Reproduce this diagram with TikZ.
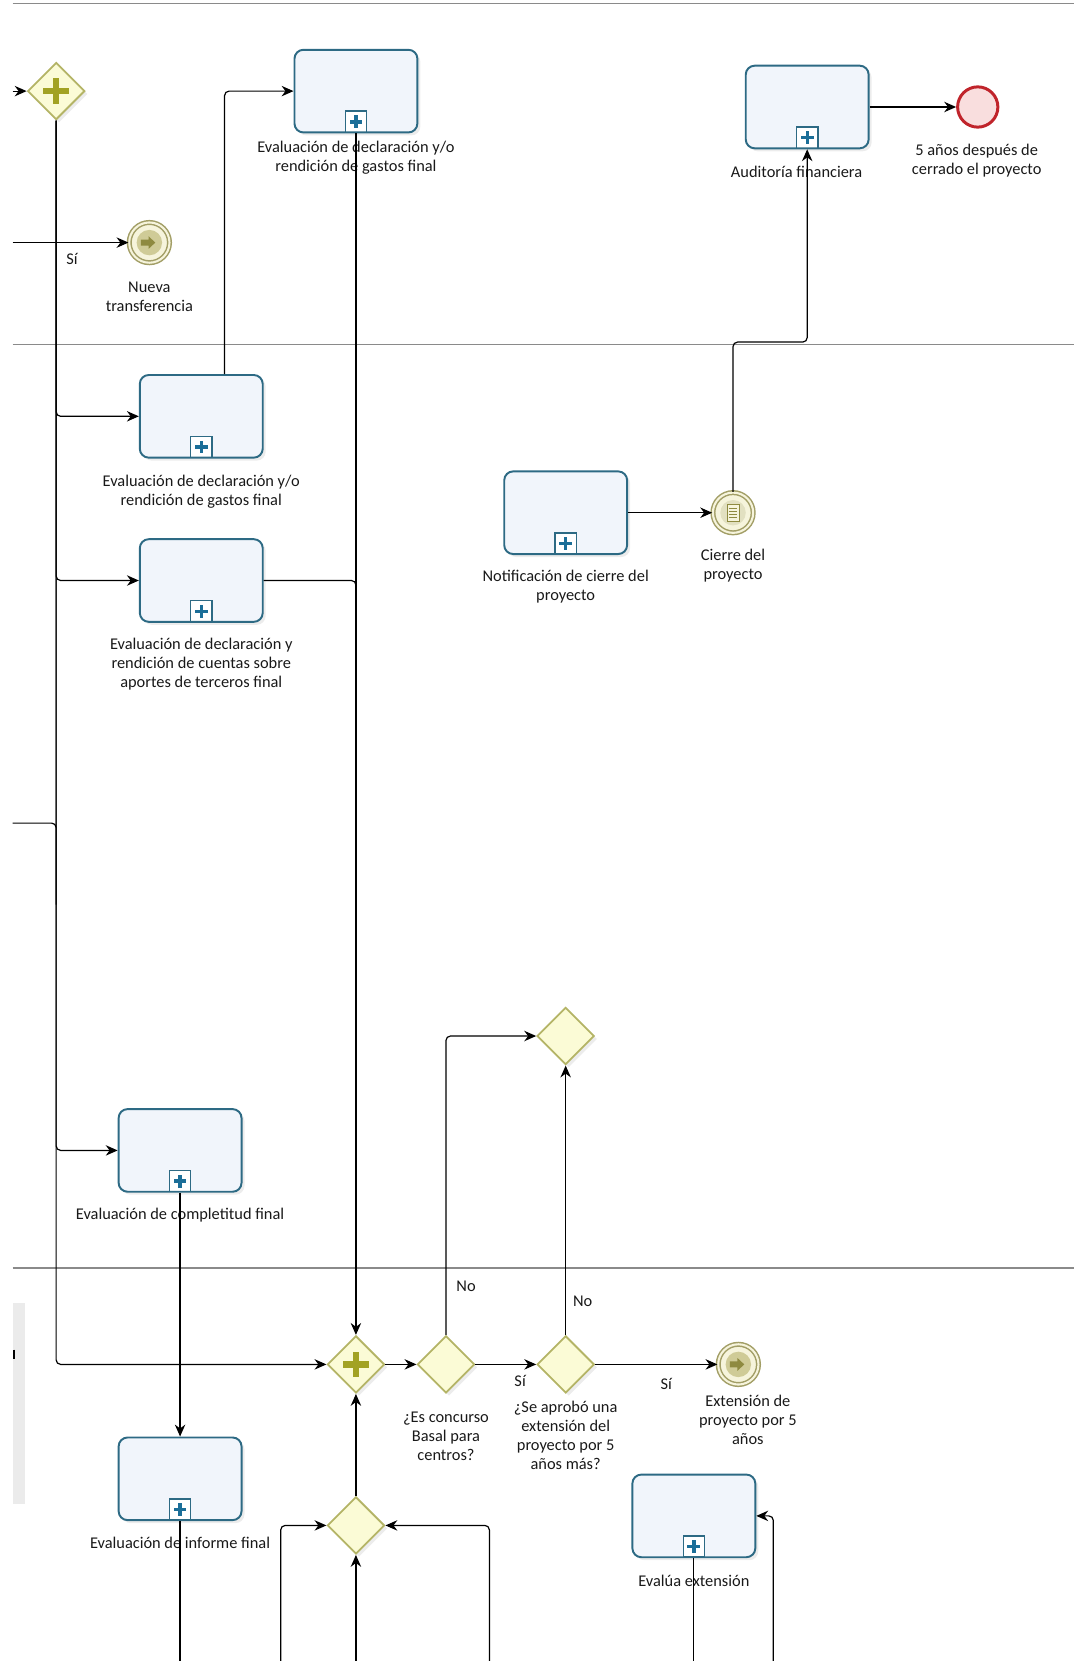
\documentclass[tikz,border=0pt]{standalone}
\usepackage{fontspec}
\setmainfont{Carlito}
\usepackage{tikz}
\usetikzlibrary{arrows.meta,positioning,calc,shapes.geometric,shadows}
\definecolor{TaskLine}{HTML}{2D6A84}
\definecolor{TaskFill}{HTML}{F1F5FB}
\definecolor{MarkPlus}{HTML}{1B6E98}
\definecolor{GwLine}{HTML}{B4B466}
\definecolor{GwFill}{HTML}{FBFBD6}
\definecolor{GwPlus}{HTML}{A2A224}
\definecolor{EvLine}{HTML}{A29E66}
\definecolor{EvFill}{HTML}{F6F4DC}
\definecolor{EvDisk}{HTML}{CFCB97}
\definecolor{EvArrow}{HTML}{8E8A40}
\definecolor{EndLine}{HTML}{C0242B}
\definecolor{EndFill}{HTML}{F9DEDE}
\definecolor{LaneGray}{HTML}{8A8A8A}
\tikzset{
    every node/.style={font=\fontsize{11}{12.8}\selectfont},
    task/.style={
        draw=TaskLine, fill=TaskFill, line width=1.3pt,
        rounded corners=6pt, minimum width=2.9cm, minimum height=1.95cm,
        drop shadow={shadow xshift=2pt, shadow yshift=-2pt, opacity=0.15},
        path picture={
            \draw[sharp corners, TaskLine, line width=1pt, fill=white]
                ($(path picture bounding box.south)+(-0.25cm,0)$) rectangle ++(0.5cm,0.5cm);
            \fill[sharp corners, MarkPlus] ($(path picture bounding box.south)+(-0.15cm,0.21cm)$) rectangle ++(0.3cm,0.08cm);
            \fill[sharp corners, MarkPlus] ($(path picture bounding box.south)+(-0.04cm,0.1cm)$) rectangle ++(0.08cm,0.3cm);
        }
    },
    gateway/.style={
        diamond, aspect=1, draw=GwLine, fill=GwFill, line width=1.2pt,
        minimum width=1.35cm, minimum height=1.35cm, inner sep=0pt,
        drop shadow={shadow xshift=2pt, shadow yshift=-2pt, opacity=0.15}
    },
    pargate/.style={
        gateway,
        path picture={
            \fill[GwPlus] ($(path picture bounding box.center)+(-0.3cm,-0.075cm)$) rectangle ++(0.6cm,0.15cm);
            \fill[GwPlus] ($(path picture bounding box.center)+(-0.075cm,-0.3cm)$) rectangle ++(0.15cm,0.6cm);
        }
    },
    midevent/.style={
        circle, draw=EvLine, double=EvFill, double distance=1.4pt, line width=1pt,
        fill=EvFill, minimum size=0.95cm, inner sep=0pt
    },
    evlink/.style={
        midevent,
        path picture={
            \fill[EvDisk] (path picture bounding box.center) circle (0.3cm);
            \fill[EvArrow] ($(path picture bounding box.center)+(-0.2cm,-0.07cm)$)
                -- ++(0.18cm,0) -- ++(0,-0.08cm) -- ++(0.16cm,0.15cm)
                -- ++(-0.16cm,0.15cm) -- ++(0,-0.08cm) -- ++(-0.18cm,0) -- cycle;
        }
    },
    evcond/.style={
        midevent,
        path picture={
            \fill[EvDisk!60] (path picture bounding box.center) circle (0.3cm);
            \draw[EvArrow, line width=0.6pt, fill=EvFill]
                ($(path picture bounding box.center)+(-0.14cm,-0.2cm)$) rectangle ++(0.28cm,0.4cm);
            \foreach \k in {-0.1,-0.033,0.033,0.1}
                \draw[EvArrow, line width=0.5pt] ($(path picture bounding box.center)+(-0.1cm,\k cm)$) -- ++(0.2cm,0);
        }
    },
    endevent/.style={
        circle, draw=EndLine, line width=2pt, fill=EndFill,
        minimum size=0.95cm, inner sep=0pt
    },
    lbl/.style={align=center, inner sep=0pt, text=black!90},
    flow/.style={-{Stealth[length=8pt,width=7pt]}, line width=0.8pt, rounded corners=3pt},
    flowline/.style={line width=0.8pt, rounded corners=3pt},
    laneline/.style={draw=LaneGray, line width=0.8pt},
}

\begin{document}
\begin{tikzpicture}[x=0.025cm, y=-0.025cm]
    \useasboundingbox (0,0) rectangle (1014,1568);

    % Lanes
    \draw[laneline] (12,3) -- (1014,3);
    \draw[laneline] (12,325) -- (1014,325);
    \draw[laneline] (12,1197) -- (1014,1197);
    \fill[black!8] (12,1230) rectangle (24,1420);
    \draw[line width=1pt] (13,1274) -- (13,1283);

    % Free ends
    \coordinate (inA) at (12,86);
    \coordinate (inB) at (12,229);
    \coordinate (inC) at (12,777);
    \coordinate (bot) at (0,1568);

    % Top lane
    \node[pargate] (p1) at (53,86) {};
    \node[task] (t1) at (336,86) {};
    \node[lbl] (t1l) at (336,149) {Evaluación de declaración y/o\\rendición de gastos final};
    \node[evlink] (ev1) at (141,229) {};
    \node[lbl] (ev1l) at (141,280) {Nueva\\transferencia};
    \node[task] (audit) at (762,101) {};
    \node[lbl] (auditl) at (752,162) {Auditoría financiera};
    \node[endevent] (fin) at (923,101) {};
    \node[lbl] (finl) at (922,152) {5 años después de\\cerrado el proyecto};

    % Middle lane
    \node[task] (t2) at (190,393) {};
    \node[lbl] (t2l) at (190,464) {Evaluación de declaración y/o\\rendición de gastos final};
    \node[task] (t3) at (190,548) {};
    \node[lbl] (t3l) at (190,627) {Evaluación de declaración y\\rendición de cuentas sobre\\aportes de terceros final};
    \node[task] (notif) at (534,484) {};
    \node[lbl] (notifl) at (534,554) {Notificación de cierre del\\proyecto};
    \node[evcond] (cierre) at (692,484) {};
    \node[lbl] (cierrel) at (692,534) {Cierre del\\proyecto};
    \node[gateway] (xtop) at (534,978) {};
    \node[task] (t6) at (170,1086) {};
    \node[lbl] (t6l) at (170,1147) {Evaluación de completitud final};

    % Bottom lane
    \node[pargate] (p2) at (336,1288) {};
    \node[gateway] (x1) at (421,1288) {};
    \node[lbl] (x1l) at (421,1356) {¿Es concurso\\Basal para\\centros?};
    \node[gateway] (x2) at (534,1288) {};
    \node[lbl] (x2l) at (534,1355) {¿Se aprobó una\\extensión del\\proyecto por 5\\años más?};
    \node[evlink] (evext) at (697,1288) {};
    \node[lbl] (evextl) at (706,1340) {Extensión de\\proyecto por 5\\años};
    \node[task] (t7) at (170,1396) {};
    \node[lbl] (t7l) at (170,1456) {Evaluación de informe final};
    \node[gateway] (x3) at (336,1440) {};
    \node[task] (text) at (655,1431) {};
    \node[lbl] (textl) at (655,1492) {Evalúa extensión};

    % Flows out of the first gateway
    \draw[flow] (inA) -- (p1.west);
    \draw[flow] (p1.south) |- (t2.west);
    \draw[flow] (p1.south) |- (t3.west);
    \draw[flow] (p1.south) |- (t6.west);
    \draw[flow] (p1.south) |- (p2.west);
    \draw[flowline] (inC) -| ($(p1.south)+(0,740)$);
    \draw[flow] (inB) -- (ev1.west);
    \node[lbl] (siA) at (68,244) {Sí};

    % Expense reports
    \draw[flow] ($(t2.north)+(22,0)$) |- (t1.west);
    \draw[flow] (t1.south) -- (p2.north);
    \draw[flowline] (t3.east) -| ($(t1.south)+(0,480)$);

    % Closing and audit
    \draw[flow] (notif.east) -- (cierre.west);
    \draw[flow] (cierre.north) |- ($(audit.south)+(0,182)$) -- (audit.south);
    \draw[flow] (audit.east) -- (fin.west);

    % Final report
    \draw[flow] (t6.south) -- (t7.north);
    \draw[flowline] (t7.south) -- (t7.south |- bot);

    % Decisions
    \draw[flow] (p2.east) -- (x1.west);
    \draw[flow] (x1.north) |- (xtop.west);
    \node[lbl] (noA) at (440,1214) {No};
    \draw[flow] (x1.east) -- (x2.west);
    \node[lbl] (siB) at (491,1304) {Sí};
    \draw[flow] (x2.north) -- (xtop.south);
    \node[lbl] (noB) at (550,1228) {No};
    \draw[flow] (x2.east) -- (evext.west);
    \node[lbl] (siC) at (629,1306) {Sí};

    % Merge below
    \draw[flow] (x3.north) -- (p2.south);
    \draw[flow] (x3.south |- bot) -- (x3.south);
    \draw[flow] (265,1568) |- (x3.west);
    \draw[flow] (462,1568) |- (x3.east);

    % Extension review
    \draw[flowline] (text.south) -- (text.south |- bot);
    \draw[flow] (730,1568) |- (text.east);
\end{tikzpicture}
\end{document}
